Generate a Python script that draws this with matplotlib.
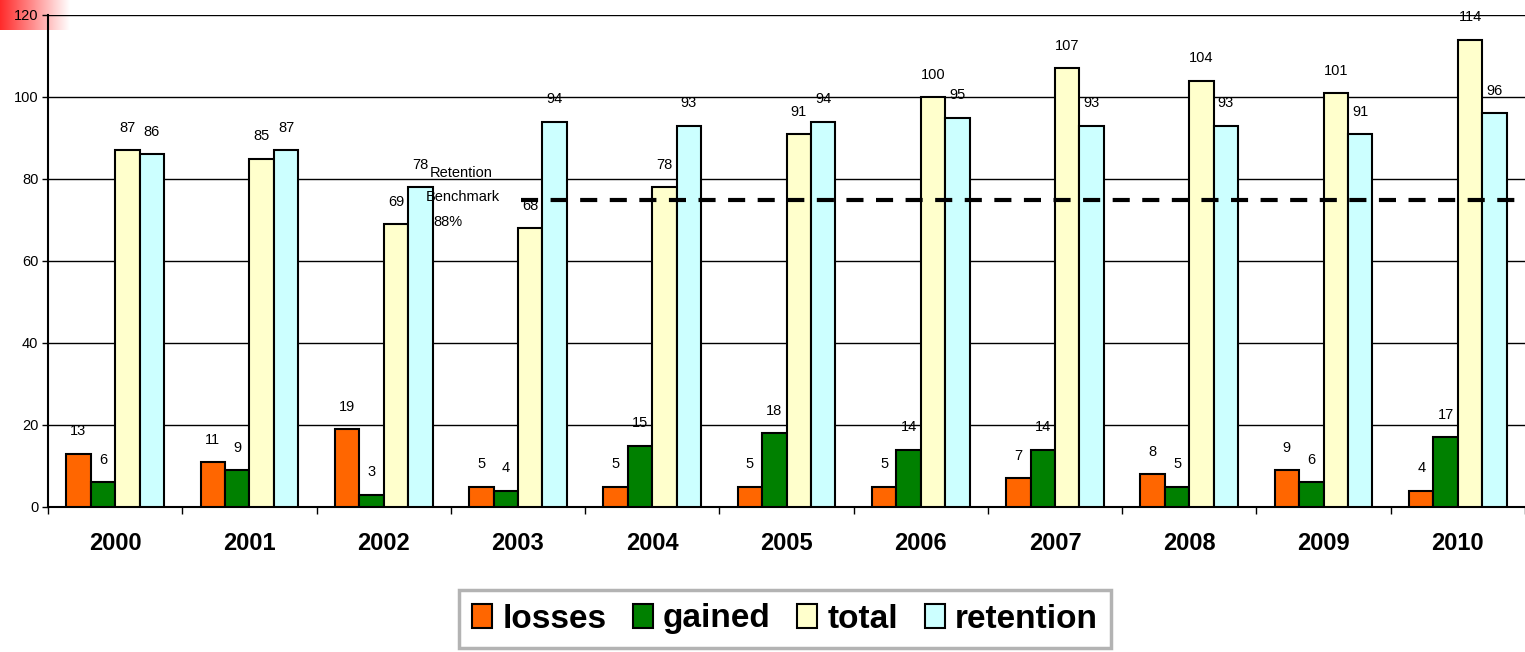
import numpy as np
import matplotlib
matplotlib.use('Agg')
import matplotlib.pyplot as plt

plt.rcParams['font.family'] = ['Liberation Sans', 'DejaVu Sans']

# data
years = ['2000', '2001', '2002', '2003', '2004', '2005', '2006', '2007', '2008', '2009', '2010']
losses = [13, 11, 19, 5, 5, 5, 5, 7, 8, 9, 4]
gained = [6, 9, 3, 4, 15, 18, 14, 14, 5, 6, 17]
total = [87, 85, 69, 68, 78, 91, 100, 107, 104, 101, 114]
retention = [86, 87, 78, 94, 93, 94, 95, 93, 93, 91, 96]
benchmark = 75

series = [('losses', losses, '#FF6600'),
          ('gained', gained, '#008000'),
          ('total', total, '#FFFFCC'),
          ('retention', retention, '#CCFFFF')]

fig = plt.figure(figsize=(15.25, 6.52), dpi=100)
fig.patch.set_facecolor('white')

# red fade in the top-left corner
gax = fig.add_axes([0, 1 - 30 / 652, 70 / 1525, 30 / 652], zorder=0)
grad = np.linspace(0, 1, 256)[None, :]
cmap = matplotlib.colors.LinearSegmentedColormap.from_list('fade', ['#FF2A2A', '#FFFFFF'])
gax.imshow(grad, aspect='auto', cmap=cmap, extent=[0, 1, 0, 1])
gax.axis('off')

ax = fig.add_axes([48 / 1525, 145 / 652, 1477 / 1525, 492 / 652], zorder=1)
ax.patch.set_alpha(0)

x = np.arange(len(years))
w = 0.182
for k, (name, vals, col) in enumerate(series):
    xs = x + (k - 1.5) * w
    ax.bar(xs, vals, width=w, color=col, edgecolor='black', linewidth=1.5,
           label=name, zorder=3)
    for xi, v in zip(xs, vals):
        ax.annotate(str(v), (xi, v), xytext=(0, 16), textcoords='offset points',
                    ha='center', va='center', fontsize=10.5, zorder=4)

# benchmark dashed line
ax.plot([3.02, 10.5], [benchmark, benchmark], color='black', lw=3,
        linestyle=(0, (4.1, 3.0)), zorder=5, solid_capstyle='butt')
ax.text(2.578, 81.5, 'Retention', ha='center', va='center', fontsize=10.5, zorder=6)
ax.text(2.593, 75.6, 'Benchmark', ha='center', va='center', fontsize=10.5, zorder=6)
ax.text(2.481, 69.5, '88%', ha='center', va='center', fontsize=10.5, zorder=6)

ax.set_xlim(-0.5, 10.5)
ax.set_ylim(0, 120)
ax.set_yticks(np.arange(0, 121, 20))
ax.yaxis.grid(True, color='black', linewidth=1)
ax.set_axisbelow(True)
ax.tick_params(axis='y', length=4, width=1, labelsize=10.5, pad=3)

ax.set_xticks(x)
ax.set_xticklabels(years, fontsize=17, fontweight='bold')
ax.set_xticks(np.arange(-0.5, 11, 1), minor=True)
ax.tick_params(axis='x', which='major', length=0, pad=18)
ax.tick_params(axis='x', which='minor', length=5, width=1, direction='out')

for s in ['top', 'right']:
    ax.spines[s].set_visible(False)
for s in ['left', 'bottom']:
    ax.spines[s].set_linewidth(1.5)

leg = ax.legend(loc='center', bbox_to_anchor=(785 / 1525, 1 - 619 / 652),
                bbox_transform=fig.transFigure, ncol=4, frameon=True,
                fancybox=False, prop={'size': 24, 'weight': 'bold'},
                handlelength=0.6, handleheight=0.7, handletextpad=0.3,
                columnspacing=0.8, borderpad=0.4)
leg.get_frame().set_edgecolor('#A0A0A0')
leg.get_frame().set_linewidth(2.5)

fig.savefig('out.png', dpi=100)
